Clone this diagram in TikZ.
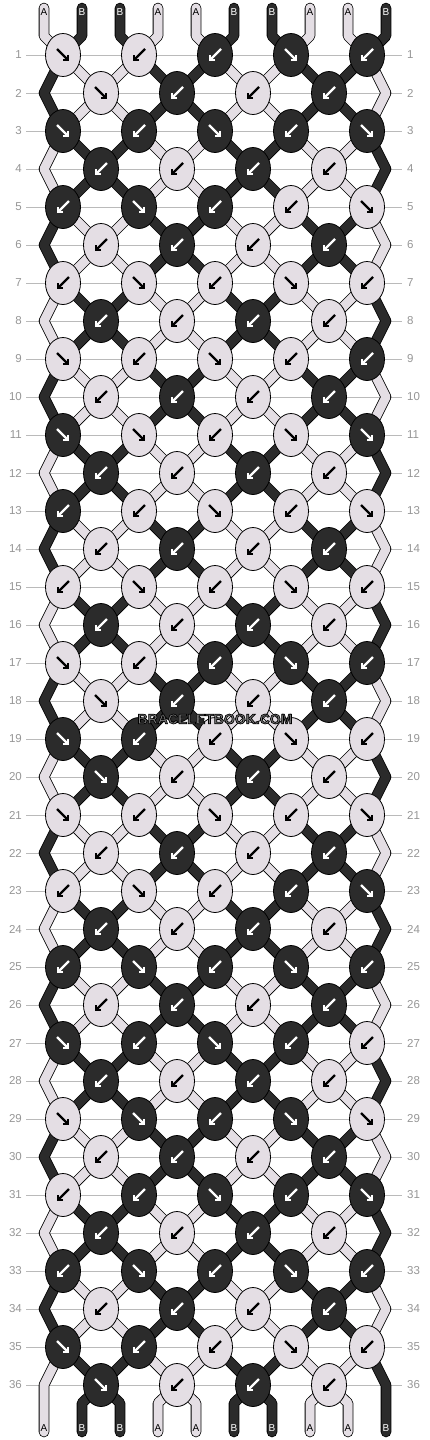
\documentclass[tikz,border=0pt]{standalone}
\usepackage{fontspec}
\setmainfont{Liberation Sans}
\usetikzlibrary{shapes.geometric,arrows.meta}
\definecolor{lightc}{RGB}{228,222,228}
\definecolor{darkc}{RGB}{43,43,43}
\definecolor{labgray}{RGB}{150,150,150}
\definecolor{linegray}{RGB}{186,186,186}
\definecolor{wmgray}{RGB}{125,125,125}
\newcommand{\strokedtext}[1]{\special{pdf:literal direct 0 0 0 RG 0.7 w 2 Tr}#1\special{pdf:literal direct 0 Tr}}
\begin{document}
\begin{tikzpicture}[x=1pt,y=-1pt,
  declare function={
    vx(\t)=(\t<=8)*(63+38*\t)+(\t==9)*386+and(\t>=10,\t<=18)*(63+38*(18-\t))+(\t==19)*44;
    qpos(\t)=(\t<=8)*(\t+2)+(\t==9)*10+and(\t>=10,\t<=18)*(19-\t)+(\t==19)*1;
  },
  knot/.style={ellipse, draw=black, line width=0.8pt, minimum width=35pt, minimum height=43pt, inner sep=0pt},
  arrK/.style={draw=black, line width=2.2pt, -{Straight Barb[length=3.5pt,width=7pt]}},
  arrW/.style={draw=white, line width=2.2pt, -{Straight Barb[length=3.5pt,width=7pt]}},
  kLF/.style={knot, fill=lightc, path picture={\draw[arrK] ([shift={(-6,-6)}]path picture bounding box.center) -- ([shift={(6,6)}]path picture bounding box.center);}},
  kLB/.style={knot, fill=lightc, path picture={\draw[arrK] ([shift={(6,-6)}]path picture bounding box.center) -- ([shift={(-6,6)}]path picture bounding box.center);}},
  kDF/.style={knot, fill=darkc, path picture={\draw[arrW] ([shift={(-6,-6)}]path picture bounding box.center) -- ([shift={(6,6)}]path picture bounding box.center);}},
  kDB/.style={knot, fill=darkc, path picture={\draw[arrW] ([shift={(6,-6)}]path picture bounding box.center) -- ([shift={(-6,6)}]path picture bounding box.center);}},
  strL/.style={draw=black, line width=0.8pt, double=lightc, double distance=9pt, line cap=round, line join=round},
  strD/.style={draw=black, line width=0.8pt, double=darkc, double distance=9pt, line cap=round, line join=round},
  rowlab/.style={text=labgray, font=\fontsize{11.5}{13}\selectfont, inner sep=0pt},
  rowline/.style={draw=linegray, line width=1pt},
  endA/.style={text=black, font=\fontsize{10}{12}\selectfont, inner sep=0pt},
  endB/.style={text=white, font=\fontsize{10}{12}\selectfont, inner sep=0pt},
  wm/.style={font=\bfseries\fontsize{14}{16}\selectfont, inner sep=0pt}
]
\useasboundingbox[fill=white] (0,0) rectangle (430,1440);

% row labels and guide lines
\foreach \r in {1,...,36}{
  \node[rowlab, anchor=east] (ll\r) at (22,{55+38*(\r-1)}) {\r};
  \node[rowlab, anchor=west] (rl\r) at (407,{55+38*(\r-1)}) {\r};
  \draw[rowline] ([xshift=4pt]ll\r.east) -- ([xshift=-5pt]rl\r.west);
}

% strings
\foreach \p/\o/\c in {1/0/L,2/18/D,3/2/D,4/16/L,5/4/L,6/14/D,7/6/D,8/12/L,9/8/L,10/10/D}{
  \pgfmathsetmacro\xp{44+38*(\p-1)}
  \pgfmathtruncatemacro\tf{mod(35+\o,20)}
  \pgfmathtruncatemacro\q{qpos(\tf)}
  \pgfmathsetmacro\xq{44+38*(\q-1)}
  \draw[str\c] (\xp,8) -- (\xp,36)
    \foreach \r in {1,...,36}{ -- ({vx(mod(\r-1+\o,20))},{55+38*(\r-1)}) }
    -- (\xq,1403) -- (\xq,1432);
}

% knots
\foreach \r/\lst in {
 1/{kLF,kLB,kDB,kDF,kDB},
 2/{kLF,kDB,kLB,kDB},
 3/{kDF,kDB,kDF,kDB,kDF},
 4/{kDB,kLB,kDB,kLB},
 5/{kDB,kDF,kDB,kLB,kLF},
 6/{kLB,kDB,kLB,kDB},
 7/{kLB,kLF,kLB,kLF,kLB},
 8/{kDB,kLB,kDB,kLB},
 9/{kLF,kLB,kLF,kLB,kDB},
 10/{kLB,kDB,kLB,kDB},
 11/{kDF,kLF,kLB,kLF,kDF},
 12/{kDB,kLB,kDB,kLB},
 13/{kDB,kLB,kLF,kLB,kLF},
 14/{kLB,kDB,kLB,kDB},
 15/{kLB,kLF,kLB,kLF,kLB},
 16/{kDB,kLB,kDB,kLB},
 17/{kLF,kLB,kDB,kDF,kDB},
 18/{kLF,kDB,kLB,kDB},
 19/{kDF,kDB,kLB,kLF,kLB},
 20/{kDF,kLB,kDB,kLB},
 21/{kLF,kLB,kLF,kLB,kLF},
 22/{kLB,kDB,kLB,kDB},
 23/{kLB,kLF,kLB,kDB,kDF},
 24/{kDB,kLB,kDB,kLB},
 25/{kDB,kDF,kDB,kDF,kDB},
 26/{kLB,kDB,kLB,kDB},
 27/{kDF,kDB,kDF,kDB,kLB},
 28/{kDB,kLB,kDB,kLB},
 29/{kLF,kDF,kDB,kDF,kLF},
 30/{kLB,kDB,kLB,kDB},
 31/{kLB,kDB,kDF,kDB,kDF},
 32/{kDB,kLB,kDB,kLB},
 33/{kDB,kDF,kDB,kDF,kDB},
 34/{kLB,kDB,kLB,kDB},
 35/{kDF,kDB,kLB,kLF,kLB},
 36/{kDF,kLB,kDB,kLB}}{
  \foreach \s [count=\i] in \lst {
    \pgfmathtruncatemacro\kc{ifthenelse(mod(\r,2)==1, 2*\i-2, 2*\i-1)}
    \node[\s] (k\r-\i) at ({63+38*\kc},{55+38*(\r-1)}) {};
  }
}

% string end letters
\foreach \p/\l in {1/A,2/B,3/B,4/A,5/A,6/B,7/B,8/A,9/A,10/B}{
  \node[end\l] (top\p) at ({44+38*(\p-1)},12) {\l};
  \node[end\l] (bot\p) at ({44+38*(\p-1)},1428) {\l};
}

% watermark
\node[wm, text=wmgray] (wm) at (215,719) {\strokedtext{BRACELETBOOK.COM}};
\end{tikzpicture}
\end{document}
